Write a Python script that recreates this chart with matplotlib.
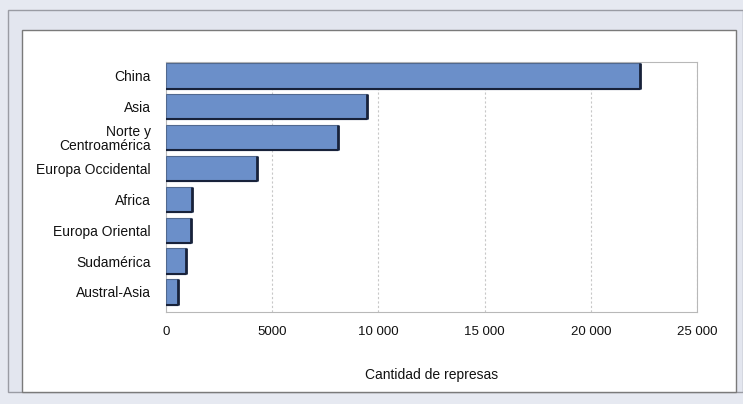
import numpy as np
import matplotlib.pyplot as plt
from matplotlib.patches import Rectangle

# Datos
regiones = ['China', 'Asia', 'Norte y\nCentroamérica', 'Europa Occidental',
            'Africa', 'Europa Oriental', 'Sudamérica', 'Austral-Asia']
represas = [22300, 9450, 8100, 4300, 1220, 1170, 950, 560]
ticks_x = [0, 5000, 10000, 15000, 20000, 25000]
ticks_lbl = ['0', '5000', '10 000', '15 000', '20 000', '25 000']

plt.rcParams['font.family'] = ['Liberation Sans', 'DejaVu Sans']

fig = plt.figure(figsize=(7.43, 4.04), dpi=100)
fig.patch.set_facecolor('#e6e9f1')

# Marco exterior y recuadro blanco (detrás de los ejes)
fig.add_artist(Rectangle((8 / 743, 1 - 392 / 404), 735 / 743, 382 / 404,
                         transform=fig.transFigure, facecolor='#e3e6ef',
                         edgecolor='#9a9ca4', lw=1, zorder=-10))
fig.add_artist(Rectangle((22 / 743, 1 - 392 / 404), 714 / 743, 362 / 404,
                         transform=fig.transFigure, facecolor='white',
                         edgecolor='#7a7a7a', lw=1, zorder=-9))

ax = fig.add_axes([166 / 743, 1 - 312 / 404, 531 / 743, 250 / 404])
y = np.arange(len(regiones))
alto = 0.82
ax.barh(y, represas, height=alto, color='#6b8fc9', edgecolor='#51698f', lw=0.8, zorder=3)
# sombra oscura a la derecha y abajo de cada barra
ax.vlines(represas, y - alto / 2, y + alto / 2, color='#18223a', lw=2, zorder=4)
ax.hlines(y + alto / 2, 0, represas, color='#18223a', lw=1.5, zorder=4)

ax.set_ylim(7.65, -0.45)
ax.set_xlim(0, 25000)
ax.set_xticks(ticks_x)
ax.set_xticklabels(ticks_lbl, fontsize=9.5, color='#111111')
ax.set_yticks(y)
ax.set_yticklabels(regiones, fontsize=10, linespacing=1.0, color='#111111')
ax.tick_params(length=0, pad=10)
ax.tick_params(axis='y', pad=11)
ax.grid(axis='x', color='#c8c8c8', ls=(0, (2, 2)), lw=0.8, zorder=0)
for s in ax.spines.values():
    s.set_color('#b8b8b8')
    s.set_linewidth(0.8)

ax.set_xlabel('Cantidad de represas', fontsize=10, labelpad=22, color='#111111')

plt.savefig('out.png', dpi=100)
